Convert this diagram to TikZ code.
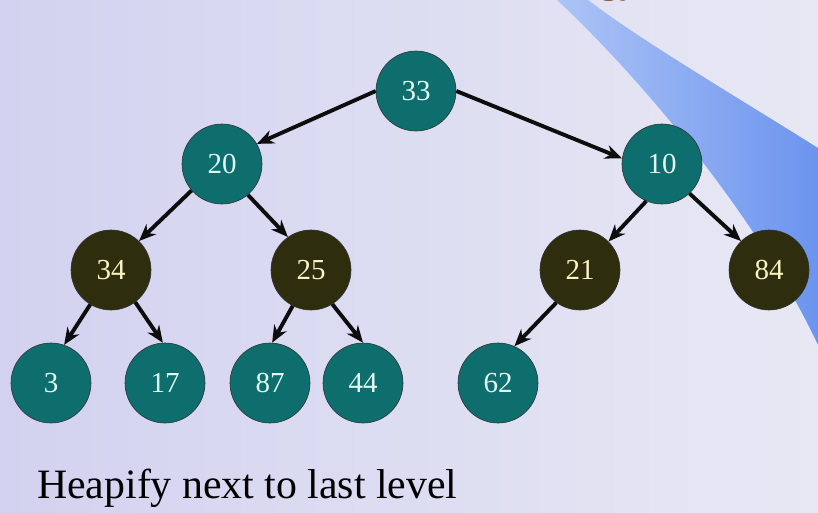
\documentclass[tikz,border=0pt]{standalone}
\usepackage{fontspec}
\setmainfont{Liberation Serif}
\usetikzlibrary{arrows.meta}
\definecolor{bgleft}{RGB}{210,210,240}
\definecolor{bgright}{RGB}{232,232,244}
\definecolor{swl}{RGB}{172,196,246}
\definecolor{swr}{RGB}{108,148,238}
\definecolor{tealnode}{RGB}{14,110,110}
\definecolor{darknode}{RGB}{46,46,14}
\definecolor{tealtext}{RGB}{226,250,242}
\definecolor{darktext}{RGB}{250,244,196}
\definecolor{titlebrown}{RGB}{110,60,10}
\tikzset{
  hnode/.style={circle,minimum size=80pt,inner sep=0pt,draw=black!80,line width=0.6pt,
    font=\fontsize{29}{29}\selectfont},
  tnode/.style={hnode,fill=tealnode,text=tealtext},
  dnode/.style={hnode,fill=darknode,text=darktext},
  arr/.style={-{Stealth[length=17pt,width=14pt]},line width=3.9pt,black!95}
}
\begin{document}
\begin{tikzpicture}[x=1pt,y=-1pt]
\useasboundingbox (0,0) rectangle (818,512);
\shade[left color=bgleft,right color=bgright] (0,0) rectangle (818,512);
\begin{scope}
\clip (0,0) rectangle (818,512);
\shade[left color=swl,right color=swr]
  (557,0) .. controls (648,85) and (762,225) .. (818,345)
  -- (818,148) .. controls (745,102) and (640,40) .. (588,0) -- cycle;
\node[anchor=base west,text=titlebrown,font=\bfseries\fontsize{40}{40}\selectfont,inner sep=0pt]
  (ttl) at (599,-8) {gy};
\end{scope}
\node[tnode] (n33) at (416,91) {33};
\node[tnode] (n20) at (222,164) {20};
\node[tnode] (n10) at (662,164) {10};
\node[dnode] (n34) at (111,270) {34};
\node[dnode] (n25) at (311,270) {25};
\node[dnode] (n21) at (580,270) {21};
\node[dnode] (n84) at (769,270) {84};
\node[tnode] (n3) at (51,383) {3};
\node[tnode] (n17) at (165,383) {17};
\node[tnode] (n87) at (270,383) {87};
\node[tnode] (n44) at (363,383) {44};
\node[tnode] (n62) at (498,383) {62};
\draw[arr] (n33.180) -- (n20.30);
\draw[arr] (n33.0) -- (n10.172);
\draw[arr] (n20.221) -- (n34.46);
\draw[arr] (n20.310) -- (n25.125);
\draw[arr] (n10.247) -- (n21.45);
\draw[arr] (n10.313) -- (n84.134);
\draw[arr] (n34.239) -- (n3.71);
\draw[arr] (n34.307) -- (n17.93);
\draw[arr] (n25.243) -- (n87.87);
\draw[arr] (n25.302) -- (n44.90);
\draw[arr] (n21.234) -- (n62.66);
\node[anchor=base west,inner sep=0pt,font=\fontsize{41.8}{41.8}\selectfont] (cap) at (37,498) {Heapify next to last level};
\end{tikzpicture}
\end{document}
